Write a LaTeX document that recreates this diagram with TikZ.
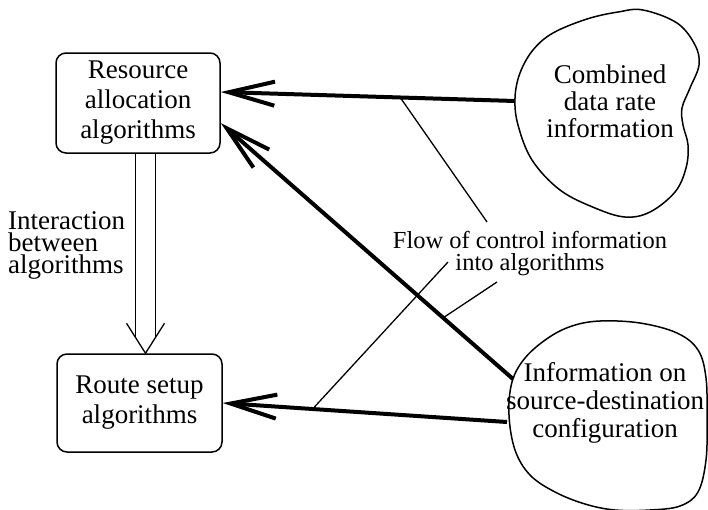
\documentclass[tikz,border=0pt]{standalone}
\usepackage{fontspec}
\setmainfont{Liberation Serif}
\usetikzlibrary{arrows.meta,calc}
\begin{document}
\begin{tikzpicture}[x=1pt,y=-1pt,
  algbox/.style={draw, line width=1.5pt, rounded corners=10pt, align=center,
    inner sep=0pt, font=\fontsize{27}{30}\selectfont},
  blobtext/.style={align=center, inner sep=0pt, font=\fontsize{27}{27}\selectfont},
  blobline/.style={line width=1.5pt},
  flowarrow/.style={line width=4pt, -{Straight Barb[length=46pt,width=24pt]}},
  pointer/.style={line width=1.3pt}]
\useasboundingbox (0,0) rectangle (708,509);

% algorithm boxes
\node[algbox, minimum width=164pt, minimum height=100pt] (ra) at (138,103)
  {Resource\\allocation\\algorithms};
\node[algbox, minimum width=165pt, minimum height=98pt] (rs) at (139.5,403)
  {Route setup\\algorithms};

% information sources
\draw[blobline] plot[smooth cycle, tension=0.6] coordinates {
  (643,10) (677,23) (695,45) (699,65) (690,88) (682,108) (683,125) (688,145)
  (686,168) (675,192) (650,212) (625,217) (595,208) (560,190) (532,160)
  (518,125) (515,98) (520,73) (533,50) (553,33) (587,19) (618,12)};
\node[blobtext] (cbtext) at (610,101) {Combined\\data rate\\information};

\draw[blobline] plot[smooth cycle, tension=0.6] coordinates {
  (600,321) (640,323) (677,333) (698,350) (706,378) (707,420) (706,460)
  (698,492) (680,506) (650,510) (615,510) (585,504) (555,492) (530,475)
  (515,450) (509,415) (512,382) (525,358) (548,338) (572,326)};
\node[blobtext, font=\fontsize{27}{28}\selectfont] (istext) at (605,403)
  {Information on\\source-destination\\configuration};

% connection points
\coordinate (cbL) at (515,101);
\coordinate (isA) at (513,379);
\coordinate (isB) at (507,422);
\coordinate (raT1) at ([yshift=11pt]ra.east);
\coordinate (raT2) at ([yshift=-20pt]ra.east);

% control information flows
\draw[flowarrow] (cbL) -- (raT1);
\draw[flowarrow] (isA) -- (raT2);
\draw[flowarrow] (isB) -- (rs.east);

% label and its pointers
\node[align=center, inner sep=0pt, font=\fontsize{24.5}{22}\selectfont] (flow)
  at (530,254) {Flow of control information\\into algorithms};
\coordinate (f1) at (487,222);
\coordinate (f2) at (448,262);
\coordinate (f3) at (497,282);
\draw[pointer] ($(cbL)!0.39!(raT1)$) -- (f1);
\draw[pointer] ($(isB)!0.684!(rs.east)$) -- (f2);
\draw[pointer] ($(isA)!0.239!(raT2)$) -- (f3);

% interaction between the algorithms
\coordinate (dtip) at ([xshift=6pt]rs.north);
\coordinate (dtop) at (dtip |- ra.south);
\draw[pointer] ([xshift=-10pt]dtop) -- ([xshift=-10pt,yshift=16pt]dtip);
\draw[pointer] ([xshift=10pt]dtop) -- ([xshift=10pt,yshift=16pt]dtip);
\draw[pointer] ([xshift=-19pt,yshift=30pt]dtip) -- (dtip) -- ([xshift=19pt,yshift=30pt]dtip);
\node[anchor=west, align=left, inner sep=0pt, font=\fontsize{27}{22}\selectfont] (inter)
  at (8,245) {Interaction\\between\\algorithms};
\end{tikzpicture}
\end{document}
